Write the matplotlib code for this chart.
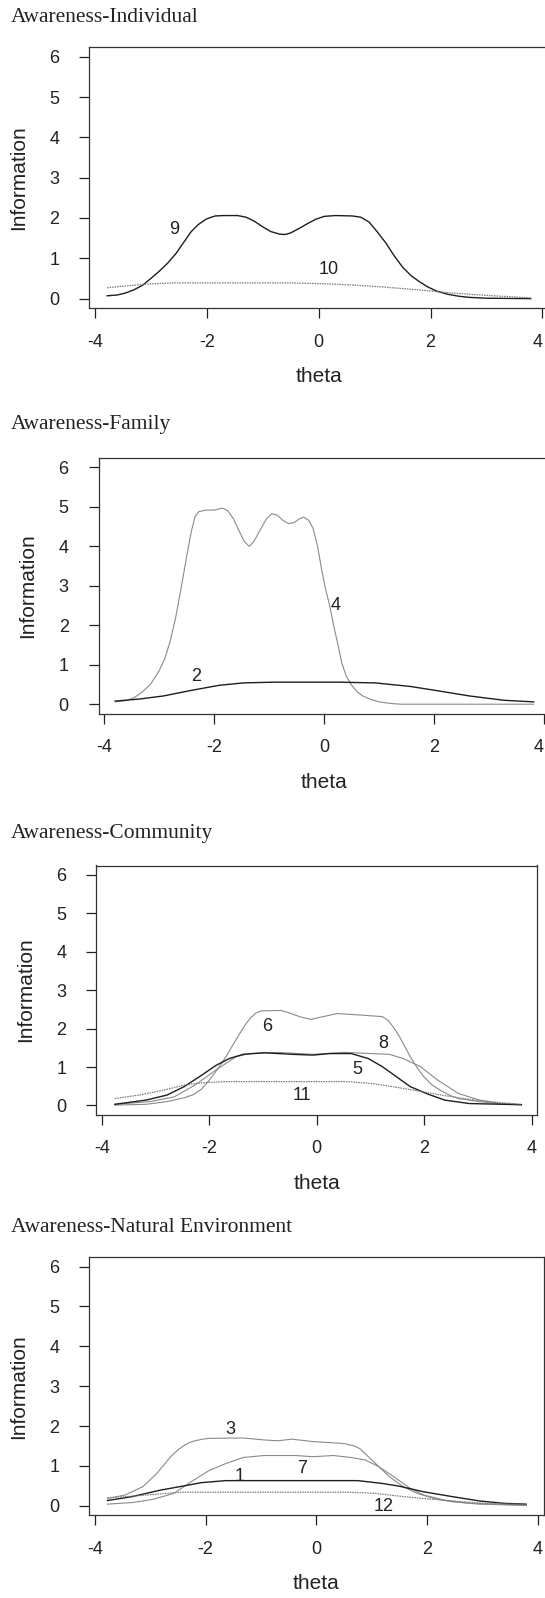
import matplotlib.pyplot as plt

# Awareness-Individual
theta9 = [-3.78, -3.60, -3.45, -3.30, -3.15, -3.00, -2.85, -2.70, -2.55, -2.40, -2.28, -2.15,
          -2.00, -1.85, -1.70, -1.45, -1.30, -1.15, -1.00, -0.85, -0.70, -0.60, -0.50, -0.35,
          -0.20, -0.05, 0.10, 0.30, 0.60, 0.75, 0.90, 1.05, 1.20, 1.35, 1.50, 1.65, 1.80,
          1.95, 2.10, 2.30, 2.50, 2.70, 3.00, 3.79]
info9 = [0.07, 0.09, 0.14, 0.22, 0.33, 0.50, 0.68, 0.88, 1.12, 1.42, 1.66, 1.84,
         1.98, 2.05, 2.06, 2.06, 2.02, 1.92, 1.78, 1.66, 1.60, 1.59, 1.63, 1.74,
         1.86, 1.97, 2.04, 2.06, 2.05, 2.02, 1.90, 1.65, 1.38, 1.06, 0.78, 0.57, 0.42,
         0.29, 0.19, 0.11, 0.06, 0.03, 0.01, 0.0]
theta10 = [-3.78, -3.33, -3.08, -2.59, -1.50, -0.50, 0.08, 0.70, 1.13, 1.76, 2.38, 3.00, 3.79]
info10 = [0.27, 0.33, 0.36, 0.39, 0.39, 0.39, 0.37, 0.33, 0.29, 0.22, 0.14, 0.08, 0.02]

# Awareness-Family
theta4 = [-3.80, -3.60, -3.45, -3.30, -3.15, -3.00, -2.90, -2.80, -2.70, -2.60, -2.50, -2.42,
          -2.35, -2.28, -2.15, -2.00, -1.85, -1.75, -1.65, -1.55, -1.45, -1.36, -1.28, -1.15,
          -1.05, -0.95, -0.85, -0.75, -0.65, -0.55, -0.45, -0.37, -0.28, -0.20, -0.12, -0.05,
          0.02, 0.10, 0.18, 0.26, 0.32, 0.40, 0.50, 0.60, 0.70, 0.85, 1.00, 1.20, 1.40, 3.81]
info4 = [0.06, 0.09, 0.17, 0.32, 0.52, 0.85, 1.15, 1.60, 2.20, 2.95, 3.75, 4.35,
         4.75, 4.88, 4.92, 4.92, 4.97, 4.90, 4.70, 4.40, 4.12, 4.00, 4.12, 4.45,
         4.70, 4.83, 4.79, 4.66, 4.58, 4.60, 4.70, 4.74, 4.66, 4.45, 4.00, 3.45,
         2.95, 2.50, 1.95, 1.45, 1.05, 0.72, 0.48, 0.32, 0.21, 0.12, 0.06, 0.02, 0.0, 0.0]
theta2 = [-3.80, -3.37, -2.92, -2.42, -1.91, -1.47, -0.90, 0.24, 0.93, 1.57, 2.07, 2.64, 3.27, 3.81]
info2 = [0.08, 0.13, 0.21, 0.35, 0.48, 0.54, 0.56, 0.56, 0.54, 0.45, 0.34, 0.21, 0.10, 0.06]

# Awareness-Community
theta6 = [-3.76, -3.18, -2.79, -2.47, -2.30, -2.15, -2.05, -1.95, -1.82, -1.69, -1.56, -1.43,
          -1.33, -1.24, -1.14, -1.04, -0.66, -0.50, -0.30, -0.11, 0.12, 0.38, 0.83, 1.22,
          1.32, 1.42, 1.54, 1.64, 1.74, 1.86, 1.99, 2.15, 2.32, 2.48, 2.64, 3.03, 3.42, 3.81]
info6 = [0.01, 0.03, 0.10, 0.20, 0.28, 0.42, 0.58, 0.75, 1.00, 1.27, 1.58, 1.88,
         2.10, 2.27, 2.40, 2.46, 2.47, 2.40, 2.30, 2.24, 2.31, 2.39, 2.35, 2.31,
         2.22, 2.05, 1.79, 1.53, 1.27, 1.00, 0.75, 0.53, 0.38, 0.26, 0.18, 0.10, 0.04, 0.02]
theta8 = [-3.76, -3.11, -2.66, -2.27, -1.88, -1.50, -1.24, -0.72, -0.07, 0.51, 1.35, 1.61,
          1.93, 2.25, 2.64, 3.03, 3.42, 3.81]
info8 = [0.03, 0.10, 0.22, 0.53, 0.92, 1.27, 1.35, 1.38, 1.33, 1.38, 1.33, 1.22,
         1.01, 0.66, 0.31, 0.14, 0.05, 0.02]
theta5 = [-3.76, -3.18, -2.79, -2.47, -2.14, -1.88, -1.63, -1.37, -0.98, -0.46, -0.07, 0.25,
          0.64, 0.96, 1.22, 1.48, 1.74, 2.06, 2.38, 2.84, 3.81]
info5 = [0.03, 0.14, 0.27, 0.49, 0.79, 1.04, 1.22, 1.33, 1.37, 1.33, 1.31, 1.35,
         1.35, 1.22, 1.01, 0.75, 0.49, 0.30, 0.14, 0.05, 0.02]
theta11 = [-3.76, -3.31, -2.85, -2.47, -2.14, -1.69, 0.57, 1.03, 1.41, 1.87, 2.32, 2.84, 3.29, 3.81]
info11 = [0.18, 0.27, 0.40, 0.53, 0.59, 0.62, 0.62, 0.57, 0.49, 0.38, 0.27, 0.16, 0.09, 0.03]

# Awareness-Natural Environment
theta3 = [-3.77, -3.45, -3.13, -2.88, -2.63, -2.50, -2.38, -2.28, -2.19, -2.05, -1.94, -1.32,
          -0.94, -0.69, -0.44, -0.06, 0.50, 0.69, 0.80, 0.88, 1.07, 1.32, 1.57, 1.82, 2.13,
          2.45, 2.95, 3.79]
info3 = [0.18, 0.27, 0.48, 0.81, 1.23, 1.40, 1.52, 1.59, 1.63, 1.67, 1.69, 1.70,
         1.65, 1.63, 1.67, 1.61, 1.56, 1.50, 1.42, 1.31, 1.06, 0.73, 0.48, 0.31, 0.18,
         0.10, 0.04, 0.01]
theta7 = [-3.77, -3.32, -2.95, -2.57, -2.26, -1.94, -1.63, -1.32, -0.94, -0.38, -0.06, 0.31,
          0.63, 0.88, 1.13, 1.44, 1.69, 1.94, 2.32, 2.76, 3.79]
info7 = [0.04, 0.08, 0.16, 0.31, 0.60, 0.88, 1.06, 1.21, 1.26, 1.26, 1.23, 1.26,
         1.21, 1.15, 0.98, 0.69, 0.44, 0.27, 0.14, 0.06, 0.01]
theta1 = [-3.77, -3.32, -2.82, -2.38, -2.07, -1.63, 0.75, 1.19, 1.50, 1.94, 2.45, 2.95, 3.39, 3.79]
info1 = [0.13, 0.23, 0.39, 0.50, 0.58, 0.63, 0.63, 0.56, 0.49, 0.35, 0.23, 0.12, 0.06, 0.04]
theta12 = [-3.77, -3.32, -2.88, -2.44, 0.56, 1.07, 1.50, 1.94, 2.45, 3.07, 3.79]
info12 = [0.20, 0.24, 0.29, 0.34, 0.34, 0.31, 0.24, 0.18, 0.12, 0.06, 0.03]

titles = ['Awareness-Individual', 'Awareness-Family', 'Awareness-Community',
          'Awareness-Natural Environment']

BLACK = '#1e1e1e'
GRAY = '#8a8a8a'
DOT = '#7a7a7a'

# (theta, info, item label, label x, label y, style)
panels = [
    [(theta9, info9, '9', -2.59, 1.71, 'k'), (theta10, info10, '10', 0.17, 0.72, 'd')],
    [(theta4, info4, '4', 0.20, 2.51, 'g'), (theta2, info2, '2', -2.32, 0.71, 'k')],
    [(theta6, info6, '6', -0.93, 2.05, 'g'), (theta8, info8, '8', 1.24, 1.61, 'g'),
     (theta5, info5, '5', 0.75, 0.94, 'k'), (theta11, info11, '11', -0.28, 0.26, 'd')],
    [(theta3, info3, '3', -1.55, 1.92, 'g'), (theta7, info7, '7', -0.26, 0.94, 'g'),
     (theta1, info1, '1', -1.38, 0.73, 'k'), (theta12, info12, '12', 1.21, -0.03, 'd')],
]

W, H = 545, 1598
# box in pixels: left, right, top, bottom
boxes = [(89.1, 548.3, 47, 308.3),
         (98.5, 549.8, 458, 713.7),
         (96.4, 537.2, 865.5, 1114.7),
         (89.0, 543.5, 1257, 1515.3)]
title_y = [21.5, 429, 838, 1232]

fig = plt.figure(figsize=(W / 100, H / 100), dpi=100)
fig.patch.set_facecolor('white')

for p, curves in enumerate(panels):
    l, r, t, b = boxes[p]
    ax = fig.add_axes([l / W, 1 - b / H, (r - l) / W, (b - t) / H])
    for th, inf, lab, lx, ly, st in curves:
        if st == 'k':
            ax.plot(th, inf, color=BLACK, lw=1.0)
        elif st == 'g':
            ax.plot(th, inf, color=GRAY, lw=0.8)
        else:
            ax.plot(th, inf, color=DOT, lw=0.9, ls=(0, (1.2, 0.8)))
        ax.text(lx, ly, lab, fontsize=13, family='Liberation Sans', color='#222222',
                ha='center', va='center')
    ax.set_xlim(-4.104, 4.104)
    ax.set_ylim(-0.24, 6.24)
    ax.set_xticks([-4, -2, 0, 2, 4])
    ax.set_yticks(range(7))
    ax.set_xticklabels(['-4', '-2', '0', '2', '4'])
    ax.tick_params(direction='out', length=7.5, width=0.9, color='#222222',
                   labelsize=13, labelcolor='#222222')
    ax.tick_params(axis='x', pad=11)
    ax.tick_params(axis='y', pad=14)
    for lbl in ax.get_xticklabels() + ax.get_yticklabels():
        lbl.set_family('Liberation Sans')
    if r > W:
        # the right edge of the figure cuts the box; keep the last label inside
        ax.get_xticklabels()[-1].set_ha('right')
    for s in ax.spines.values():
        s.set_color('#333333')
        s.set_linewidth(0.9)
    ax.set_xlabel('theta', fontsize=15, family='Liberation Sans', color='#222222')
    ax.set_ylabel('Information', fontsize=15, family='Liberation Sans', color='#222222')
    ax.xaxis.set_label_coords(0.5, -59 / (b - t))
    ax.yaxis.set_label_coords(-61 / (r - l), 0.5)
    fig.text(11 / W, 1 - title_y[p] / H, titles[p], fontsize=15.5,
             family='Liberation Serif', color='#222222', ha='left', va='baseline')

plt.savefig('out.png', dpi=100)
